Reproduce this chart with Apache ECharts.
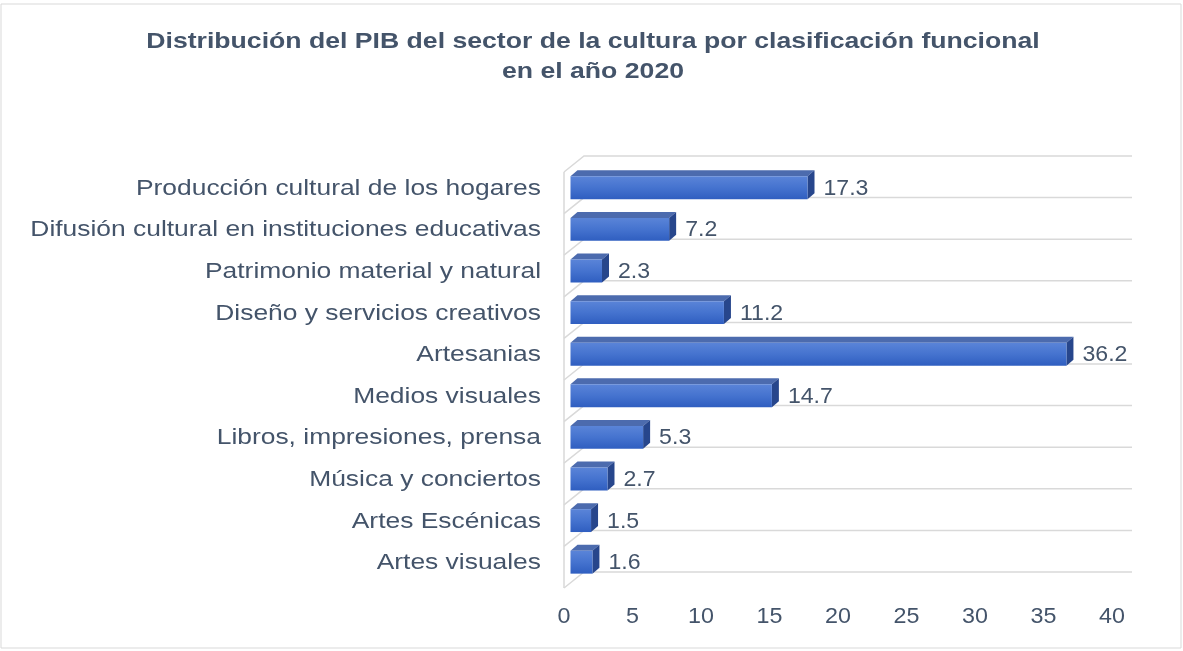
<!DOCTYPE html>
<html>
<head>
<meta charset="utf-8">
<script src="https://cdn.jsdelivr.net/npm/echarts@6/dist/echarts.min.js"></script>
<style>
  html, body { margin: 0; padding: 0; background: #fff; }
  #main { width: 1183px; height: 651px; }
</style>
</head>
<body>
<div id="main"></div>
<script>
const categories = [
  'Artes visuales',
  'Artes Escénicas',
  'Música y conciertos',
  'Libros, impresiones, prensa',
  'Medios visuales',
  'Artesanias',
  'Diseño y servicios creativos',
  'Patrimonio material y natural',
  'Difusión cultural en instituciones educativas',
  'Producción cultural de los hogares'
];
const values = [1.6, 1.5, 2.7, 5.3, 14.7, 36.2, 11.2, 2.3, 7.2, 17.3];
const xTicks = [0, 5, 10, 15, 20, 25, 30, 35, 40];
const titleText = 'Distribución del PIB del sector de la cultura por clasificación funcional\nen el año 2020';

const textColor = '#44546A';
const font = '"Liberation Sans", Arial, sans-serif';
// depth of the wall and of the bars (pixels, half each side of the data plane)
const wallDx = 10, wallDy = 8;
const barDx = 3.5, barDy = 3;

const myChart = echarts.init(document.getElementById('main'));

function renderWall(params, api) {
  const k = api.value(0);
  const base = api.coord([0, 0]);
  const band = api.size([0, 1])[1];
  const end = api.coord([xTicks[xTicks.length - 1], 0]);
  const y = base[1] + band / 2 - k * band;
  const children = [{
    type: 'polyline',
    shape: { points: [[base[0] - wallDx, y + wallDy], [base[0] + wallDx, y - wallDy], [end[0] + wallDx, y - wallDy]] },
    style: { stroke: '#D9D9D9', lineWidth: 1.5, fill: null }
  }];
  if (k === 0) {
    const top = base[1] + band / 2 - categories.length * band;
    children.push({
      type: 'line',
      shape: { x1: base[0] - wallDx, y1: top + wallDy, x2: base[0] - wallDx, y2: base[1] + band / 2 + wallDy },
      style: { stroke: '#D9D9D9', lineWidth: 1.5 }
    });
  }
  return { type: 'group', children: children };
}

function renderTick(params, api) {
  const v = api.value(0);
  const p = api.coord([v, 0]);
  const band = api.size([0, 1])[1];
  return {
    type: 'text',
    x: p[0] - wallDx,
    y: p[1] + band / 2 + 37,
    scaleX: 1.06,
    style: {
      text: String(v),
      fill: textColor,
      font: '22px ' + font,
      align: 'center',
      verticalAlign: 'middle'
    }
  };
}

function renderBar(params, api) {
  const v = api.value(0);
  const c = api.value(1);
  const p0 = api.coord([0, c]);
  const p1 = api.coord([v, c]);
  const band = api.size([0, 1])[1];
  const h = band * 0.55;
  const xl = p0[0] - barDx, xr = p1[0] - barDx;
  const yt = p0[1] + barDy - h / 2, yb = p0[1] + barDy + h / 2;
  const dx = barDx * 2, dy = barDy * 2;
  return {
    type: 'group',
    children: [
      {
        type: 'polygon',
        shape: { points: [[xl, yt], [xr, yt], [xr + dx, yt - dy], [xl + dx, yt - dy]] },
        style: { fill: '#4C6BAE' }
      },
      {
        type: 'polygon',
        shape: { points: [[xr, yt], [xr, yb], [xr + dx, yb - dy], [xr + dx, yt - dy]] },
        style: { fill: '#27468C' }
      },
      {
        type: 'rect',
        shape: { x: xl, y: yt, width: xr - xl, height: h },
        style: {
          fill: new echarts.graphic.LinearGradient(0, 0, 0, 1, [
            { offset: 0, color: '#5A84D8' },
            { offset: 0.5, color: '#4573CF' },
            { offset: 1, color: '#2F5EC0' }
          ])
        }
      },
      {
        type: 'text',
        x: xr + dx + 9,
        y: p0[1] + barDy + 1,
        scaleX: 1.05,
        style: {
          text: String(v),
          fill: textColor,
          font: '22px ' + font,
          verticalAlign: 'middle',
          align: 'left'
        }
      },
      {
        type: 'text',
        x: p0[0] - wallDx - 23,
        y: p0[1] + barDy + 1,
        scaleX: 1.2,
        style: {
          text: categories[c],
          fill: textColor,
          font: '22px ' + font,
          verticalAlign: 'middle',
          align: 'right'
        }
      }
    ]
  };
}

myChart.setOption({
  animation: false,
  textStyle: { fontFamily: font },
  graphic: [
    {
      type: 'rect',
      shape: { x: 1, y: 4, width: 1180, height: 644 },
      style: { fill: null, stroke: '#D9D9D9', lineWidth: 1 },
      z: -1
    },
    {
      type: 'text',
      x: 593,
      y: 27,
      scaleX: 1.21,
      style: {
        text: titleText,
        fill: textColor,
        font: 'bold 22px ' + font,
        lineHeight: 30,
        align: 'center',
        verticalAlign: 'top'
      }
    }
  ],
  grid: { left: 574, width: 548, top: 164, height: 416 },
  xAxis: {
    type: 'value',
    min: 0,
    max: 40,
    interval: 5,
    axisLine: { show: false },
    axisTick: { show: false },
    splitLine: { show: false },
    axisLabel: { show: false }
  },
  yAxis: {
    type: 'category',
    data: categories,
    axisLine: { show: false },
    axisTick: { show: false },
    splitLine: { show: false },
    axisLabel: { show: false }
  },
  series: [
    {
      type: 'custom',
      name: 'wall',
      renderItem: renderWall,
      data: categories.map((c, i) => [i]).concat([[categories.length]]),
      encode: { x: -1, y: -1 },
      silent: true,
      z: 1
    },
    {
      type: 'custom',
      name: 'ticks',
      renderItem: renderTick,
      data: xTicks.map(t => [t]),
      encode: { x: 0, y: -1 },
      silent: true,
      clip: false,
      z: 1
    },
    {
      type: 'custom',
      name: 'PIB',
      renderItem: renderBar,
      data: values.map((v, i) => [v, i]),
      encode: { x: 0, y: 1 },
      clip: false,
      z: 2
    }
  ]
});
</script>
</body>
</html>
